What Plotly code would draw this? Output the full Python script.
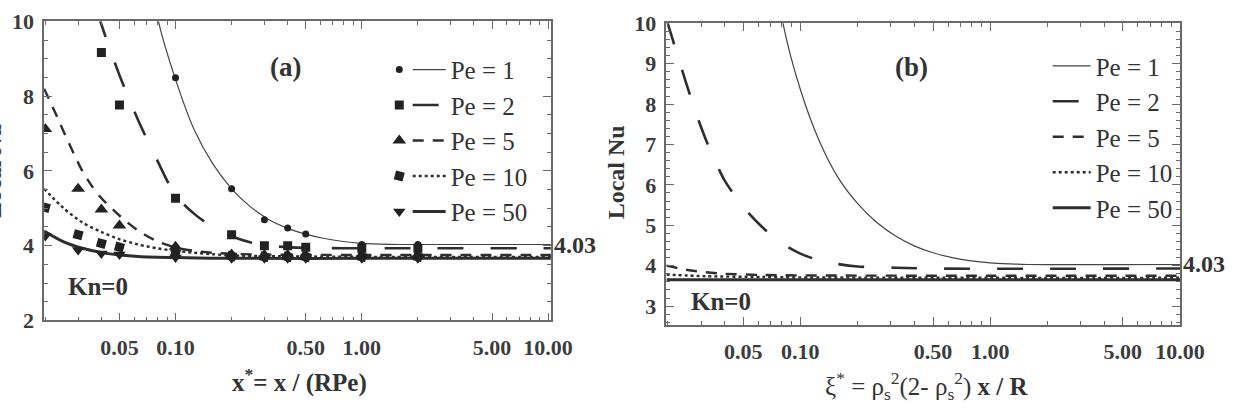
import plotly.graph_objects as go

FONT = "Liberation Serif"
INK = "#333333"
FRAME = "#6a6a6a"

pe_names = ["Pe = 1", "Pe = 2", "Pe = 5", "Pe = 10", "Pe = 50"]

# ---- panel (a): curves (x = x*, y = local Nu) ----
a_pe1_x = [0.07, 0.081, 0.1, 0.126, 0.158, 0.2, 0.251, 0.316, 0.398, 0.5, 0.631, 0.794, 1.0, 1.26, 1.58, 10.5]
a_pe1_y = [12.0, 10.0, 8.45, 7.1, 6.2, 5.52, 5.05, 4.70, 4.47, 4.31, 4.19, 4.11, 4.06, 4.04, 4.03, 4.03]
a_pe2_x = [0.0316, 0.0398, 0.0501, 0.0631, 0.0794, 0.1, 0.126, 0.158, 0.2, 0.251, 0.316, 0.398, 0.5, 1.0, 10.5]
a_pe2_y = [11.6, 9.95, 8.55, 7.35, 6.3, 5.35, 4.85, 4.5, 4.25, 4.09, 4.0, 3.96, 3.94, 3.93, 3.93]
a_pe5_x = [0.0197, 0.0224, 0.0251, 0.0282, 0.0316, 0.0355, 0.0398, 0.0501, 0.0631, 0.0794, 0.1, 0.126, 0.158, 0.2, 0.316, 1.0, 10.5]
a_pe5_y = [8.2, 7.6, 7.05, 6.5, 6.0, 5.6, 5.28, 4.8, 4.4, 4.12, 3.95, 3.86, 3.81, 3.78, 3.76, 3.75, 3.75]
a_pe10_x = [0.0197, 0.0251, 0.0316, 0.0398, 0.0501, 0.0631, 0.0794, 0.1, 0.126, 0.158, 0.2, 0.316, 1.0, 10.5]
a_pe10_y = [5.52, 5.0, 4.62, 4.37, 4.17, 4.03, 3.93, 3.86, 3.81, 3.77, 3.74, 3.72, 3.70, 3.70]
a_pe50_x = [0.0197, 0.0251, 0.0316, 0.0398, 0.0501, 0.0631, 0.1, 0.2, 1.0, 10.5]
a_pe50_y = [4.39, 4.1, 3.93, 3.82, 3.75, 3.71, 3.68, 3.66, 3.66, 3.66]

# ---- panel (a): markers ----
m_pe1_x = [0.1, 0.2, 0.3, 0.4, 0.5, 1.0, 2.0]
m_pe1_y = [8.49, 5.52, 4.69, 4.47, 4.31, 4.03, 4.03]
m_pe2_x = [0.04, 0.05, 0.1, 0.2, 0.3, 0.4, 0.5, 1.0, 2.0]
m_pe2_y = [9.17, 7.76, 5.27, 4.29, 4.0, 4.0, 3.96, 3.93, 3.93]
m_pe5_x = [0.02, 0.03, 0.04, 0.05, 0.1, 0.2, 0.3, 0.4, 0.5, 1.0, 2.0]
m_pe5_y = [7.12, 5.52, 4.97, 4.54, 3.97, 3.76, 3.75, 3.75, 3.75, 3.75, 3.75]
m_pe10_x = [0.02, 0.03, 0.04, 0.05, 0.1, 0.2, 0.3, 0.4, 0.5, 1.0, 2.0]
m_pe10_y = [5.02, 4.29, 4.06, 3.96, 3.8, 3.72, 3.7, 3.7, 3.7, 3.7, 3.7]
m_pe50_x = [0.02, 0.03, 0.04, 0.05, 0.1, 0.2, 0.3, 0.4, 0.5, 1.0, 2.0]
m_pe50_y = [4.26, 3.88, 3.79, 3.76, 3.68, 3.66, 3.66, 3.66, 3.66, 3.66, 3.66]

# ---- panel (b): curves (x = xi*, y = local Nu) ----
b_pe1_x = [0.07, 0.081, 0.1, 0.126, 0.158, 0.2, 0.251, 0.316, 0.398, 0.5, 0.631, 0.794, 1.0, 1.26, 1.58, 10.5]
b_pe1_y = [12.0, 10.0, 8.36, 7.08, 6.18, 5.54, 5.08, 4.74, 4.49, 4.32, 4.2, 4.12, 4.07, 4.045, 4.03, 4.03]
b_pe2_x = [0.0197, 0.0224, 0.0251, 0.0282, 0.0316, 0.0355, 0.0398, 0.0501, 0.0631, 0.0794, 0.1, 0.126, 0.158, 0.2, 0.316, 0.5, 10.5]
b_pe2_y = [10.1, 9.25, 8.5, 7.78, 7.15, 6.6, 6.12, 5.45, 4.95, 4.56, 4.3, 4.13, 4.04, 3.98, 3.95, 3.93, 3.93]
b_pe5_x = [0.0197, 0.0251, 0.0316, 0.0398, 0.0631, 0.1, 1.0, 10.5]
b_pe5_y = [4.0, 3.9, 3.84, 3.8, 3.77, 3.76, 3.75, 3.75]
b_pe10_x = [0.0197, 0.0316, 0.0631, 0.1, 1.0, 10.5]
b_pe10_y = [3.78, 3.74, 3.72, 3.71, 3.70, 3.70]
b_pe50_x = [0.0197, 10.5]
b_pe50_y = [3.65, 3.65]

x_tickvals = [0.05, 0.1, 0.5, 1, 5, 10]
x_ticktext = ["0.05", "0.10", "0.50", "1.00", "5.00", "10.00"]
x_minor = [0.02, 0.03, 0.04, 0.06, 0.07, 0.08, 0.09, 0.2, 0.3, 0.4, 0.6, 0.7, 0.8, 0.9,
           2, 3, 4, 6, 7, 8, 9]
a_yticks = [2, 4, 6, 8, 10]
b_yticks = [3, 4, 5, 6, 7, 8, 9, 10]

line_styles = [
    dict(width=1.2, dash="solid", color="#444444"),
    dict(width=2.6, dash="26px,27px", color="#2e2e2e"),
    dict(width=2.4, dash="11px,9px", color="#2e2e2e"),
    dict(width=2.4, dash="3px,3px", color="#2e2e2e"),
    dict(width=3.0, dash="solid", color="#2e2e2e"),
]
marker_styles = [
    dict(symbol="circle", size=7, angle=0),
    dict(symbol="square", size=9, angle=0),
    dict(symbol="triangle-up", size=12, angle=0),
    dict(symbol="square", size=9, angle=15),
    dict(symbol="triangle-down", size=11, angle=0),
]

a_curves = [(a_pe1_x, a_pe1_y), (a_pe2_x, a_pe2_y), (a_pe5_x, a_pe5_y),
            (a_pe10_x, a_pe10_y), (a_pe50_x, a_pe50_y)]
a_marks = [(m_pe1_x, m_pe1_y), (m_pe2_x, m_pe2_y), (m_pe5_x, m_pe5_y),
           (m_pe10_x, m_pe10_y), (m_pe50_x, m_pe50_y)]
b_curves = [(b_pe1_x, b_pe1_y), (b_pe2_x, b_pe2_y), (b_pe5_x, b_pe5_y),
            (b_pe10_x, b_pe10_y), (b_pe50_x, b_pe50_y)]

fig = go.Figure()

for i, (xs, ys) in enumerate(a_curves):
    fig.add_trace(go.Scatter(x=xs, y=ys, mode="lines", name=pe_names[i],
                             line=dict(shape="spline", smoothing=0.8, **line_styles[i]),
                             xaxis="x", yaxis="y", legend="legend", legendgroup="a%d" % i))
for i, (xs, ys) in enumerate(a_marks):
    fig.add_trace(go.Scatter(x=xs, y=ys, mode="markers", name=" ",
                             marker=dict(color="#222222", **marker_styles[i]),
                             xaxis="x", yaxis="y", legend="legend3", legendgroup="m%d" % i))
for i, (xs, ys) in enumerate(b_curves):
    fig.add_trace(go.Scatter(x=xs, y=ys, mode="lines", name=pe_names[i],
                             line=dict(shape="spline", smoothing=0.8, **line_styles[i]),
                             xaxis="x2", yaxis="y2", legend="legend2", legendgroup="b%d" % i))

W, H = 1254, 418
tickfont = dict(family=FONT, size=22, color="#3c3c3c", weight="bold")

def xaxis(domain, rng, anchor):
    return dict(type="log", domain=domain, range=rng, anchor=anchor,
                tickvals=x_tickvals, ticktext=x_ticktext,
                ticks="inside", ticklen=8, tickwidth=1, tickcolor=FRAME,
                minor=dict(tickvals=x_minor, ticks="inside", ticklen=4, tickcolor=FRAME),
                showline=True, linecolor=FRAME, linewidth=1.5, mirror="ticks",
                showgrid=False, zeroline=False, tickfont=tickfont, ticklabelstandoff=6,
                ticklabeloverflow="allow")

def yaxis(domain, rng, tv, mdt, anchor):
    return dict(domain=domain, range=rng, tickvals=tv, anchor=anchor,
                ticks="inside", ticklen=8, tickwidth=1, tickcolor=FRAME,
                minor=dict(dtick=mdt, ticks="inside", ticklen=4, tickcolor=FRAME),
                showline=True, linecolor=FRAME, linewidth=1.5, mirror="ticks",
                showgrid=False, zeroline=False, tickfont=tickfont, ticklabelstandoff=4,
                ticklabeloverflow="allow")

legfont = dict(family=FONT, size=25, color=INK)
fig.update_layout(
    width=W, height=H, margin=dict(l=0, r=0, t=0, b=0),
    paper_bgcolor="white", plot_bgcolor="white",
    xaxis=xaxis([45 / W, 562 / W], [-1.7055, 1.0145], "y"),
    yaxis=yaxis([1 - 328 / H, 1 - 10 / H], [2, 10], a_yticks, 0.5, "x"),
    xaxis2=xaxis([680 / W, 1204 / W], [-1.7055, 1.0], "y2"),
    yaxis2=yaxis([1 - 333 / H, 1 - 12 / H], [2.53, 10], b_yticks, 0.2, "x2"),
    legend=dict(x=416 / W, y=1 - 37 / H, xanchor="left", yanchor="top", font=legfont,
                bgcolor="rgba(0,0,0,0)", itemwidth=33, tracegroupgap=0),
    legend3=dict(x=387 / W, y=1 - 37 / H, xanchor="left", yanchor="top", font=legfont,
                 bgcolor="rgba(0,0,0,0)", itemwidth=30, tracegroupgap=0),
    legend2=dict(x=1069 / W, y=1 - 33 / H, xanchor="left", yanchor="top", font=legfont,
                 bgcolor="rgba(0,0,0,0)", itemwidth=38, tracegroupgap=0),
    showlegend=True,
)

ann_font = dict(family=FONT, color=INK, weight="bold")
anns = [
    dict(text="(a)", x=291 / W, y=1 - 58 / H, font=dict(size=27, **ann_font)),
    dict(text="(b)", x=930 / W, y=1 - 58 / H, font=dict(size=27, **ann_font)),
    dict(text="Kn=0", x=100 / W, y=1 - 292 / H, font=dict(size=25, **ann_font)),
    dict(text="Kn=0", x=736 / W, y=1 - 308 / H, font=dict(size=25, **ann_font)),
    dict(text="Local Nu", x=-7 / W, y=1 - 169 / H, textangle=-90, font=dict(size=24, **ann_font)),
    dict(text="Local Nu", x=628 / W, y=1 - 170 / H, textangle=-90, font=dict(size=24, **ann_font)),
    dict(text="<b>x<sup>*</sup>= x / (RPe)</b>", x=306 / W, y=1 - 392 / H,
         font=dict(family=FONT, size=25, color=INK)),
    dict(text="ξ<sup>*</sup> = ρ<sub>s</sub><sup>2</sup>(2- ρ<sub>s</sub><sup>2</sup>) <b>x / R</b>",
         x=946 / W, y=1 - 398 / H, font=dict(family=FONT, size=25, color=INK)),
]
for a in anns:
    a.update(xref="paper", yref="paper", showarrow=False, xanchor="center", yanchor="middle")
    fig.add_annotation(**a)

fig.add_annotation(text="4.03", xref="x domain", x=1, yref="y", y=4.03, xanchor="left",
                   yanchor="middle", xshift=1, showarrow=False, font=dict(size=24, **ann_font))
fig.add_annotation(text="4.03", xref="x2 domain", x=1, yref="y2", y=4.03, xanchor="left",
                   yanchor="middle", xshift=1, showarrow=False, font=dict(size=24, **ann_font))

fig.write_html("out.html")
